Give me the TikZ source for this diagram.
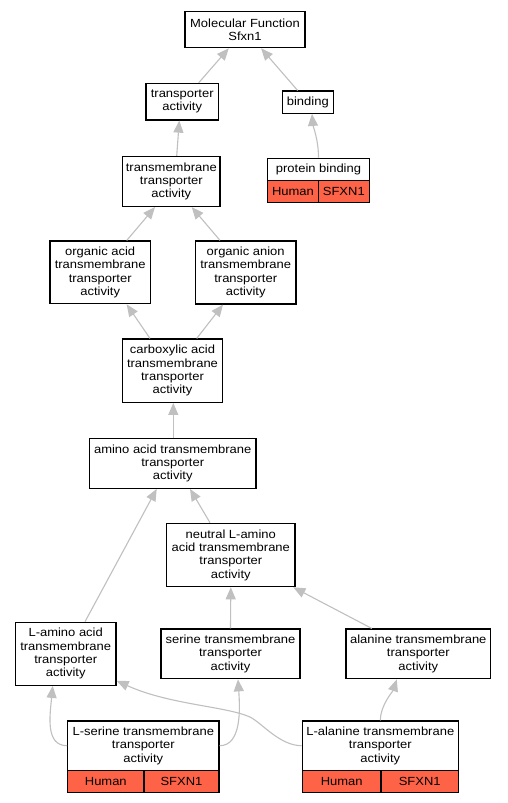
\documentclass[tikz,border=0pt]{standalone}
\usepackage{fontspec}
\setmainfont{Liberation Sans}[FakeStretch=1.1]
\usetikzlibrary{arrows.meta}
\definecolor{edgegray}{HTML}{C0C0C0}
\definecolor{tomatored}{HTML}{FF6347}
\begin{document}
\begin{tikzpicture}[x=1pt,y=-1pt,
  box/.style={draw=black, line width=1.2pt, inner sep=0pt, align=center, font=\fontsize{11.8}{13.3}\selectfont},
  cell/.style={box, fill=tomatored},
  edge/.style={draw=edgegray, line width=1.1pt, -{Triangle[length=12pt,width=10pt]}}]
\fill[white] (0,0) rectangle (507,803);
\useasboundingbox (0,0) rectangle (507,803);
% nodes
\node[box, minimum width=120pt, minimum height=36pt] (mf) at (245,29.7) {Molecular Function\\Sfxn1};
\node[box, minimum width=72.3pt, minimum height=36.7pt] (tact) at (182.2,101.7) {transporter\\activity};
\node[box, minimum width=51pt, minimum height=22.3pt] (bind) at (307.8,102.2) {binding};
\node[box, minimum width=101.6pt, minimum height=22.4pt] (pb) at (318.5,169.5) {protein binding};
\node[cell, minimum width=50.6pt, minimum height=22pt] (pbh) at (293,191.7) {Human};
\node[cell, minimum width=51pt, minimum height=22pt] (pbs) at (343.8,191.7) {SFXN1};
\node[box, minimum width=97.3pt, minimum height=50pt] (tm) at (171.3,181.5) {transmembrane\\transporter\\activity};
\node[box, minimum width=100.3pt, minimum height=62.7pt] (oa) at (100.2,272.4) {organic acid\\transmembrane\\transporter\\activity};
\node[box, minimum width=100.7pt, minimum height=63pt] (oan) at (245.7,272.5) {organic anion\\transmembrane\\transporter\\activity};
\node[box, minimum width=100.4pt, minimum height=63.3pt] (cb) at (172.5,370.7) {carboxylic acid\\transmembrane\\transporter\\activity};
\node[box, minimum width=166.7pt, minimum height=50pt] (aa) at (172.7,463.3) {amino acid transmembrane\\transporter\\activity};
\node[box, minimum width=128.3pt, minimum height=63.4pt] (neu) at (230.8,555) {neutral L-amino\\acid transmembrane\\transporter\\activity};
\node[box, minimum width=100.7pt, minimum height=63pt] (la) at (65.7,653.8) {L-amino acid\\transmembrane\\transporter\\activity};
\node[box, minimum width=139pt, minimum height=49.7pt] (ser) at (230.5,653.9) {serine transmembrane\\transporter\\activity};
\node[box, minimum width=144.7pt, minimum height=49.7pt] (ala) at (418.3,653.9) {alanine transmembrane\\transporter\\activity};
\node[box, minimum width=151.3pt, minimum height=49.3pt] (lser) at (143.3,745.7) {L-serine transmembrane\\transporter\\activity};
\node[cell, minimum width=76.3pt, minimum height=22pt] (lserh) at (105.8,781.3) {Human};
\node[cell, minimum width=75pt, minimum height=22pt] (lsers) at (181.5,781.3) {SFXN1};
\node[box, minimum width=156pt, minimum height=49.3pt] (lala) at (380.3,745.7) {L-alanine transmembrane\\transporter\\activity};
\node[cell, minimum width=78.7pt, minimum height=22pt] (lalah) at (341.7,781.3) {Human};
\node[cell, minimum width=77.3pt, minimum height=22pt] (lalas) at (419.7,781.3) {SFXN1};
\coordinate (lalamid) at (250,717);
% edges
\draw[edge] (tact) -- (mf);
\draw[edge] (bind) -- (mf);
\draw[edge] (pb.north) .. controls +(0,-18) and +(1,12) .. ([xshift=4.2pt]bind.south);
\draw[edge] ([xshift=5.4pt]tm.north) -- ([xshift=-2.9pt]tact.south);
\draw[edge] ([xshift=26.5pt]oa.north) -- ([xshift=-16.3pt]tm.south);
\draw[edge] ([xshift=-25.7pt]oan.north) -- ([xshift=20.4pt]tm.south);
\draw[edge] ([xshift=-22.5pt]cb.north) -- ([xshift=26.5pt]oa.south);
\draw[edge] ([xshift=24.2pt]cb.north) -- ([xshift=-22.7pt]oan.south);
\draw[edge] ([xshift=0.6pt]aa.north) -- ([xshift=0.8pt]cb.south);
\draw[edge] ([xshift=19.3pt]la.north) -- ([xshift=-16pt]aa.south);
\draw[edge] ([xshift=-20.8pt]neu.north) -- ([xshift=17.3pt]aa.south);
\draw[edge] (ser.north) -- (neu.south);
\draw[edge] ([xshift=-46.5pt]ala.north) -- ([xshift=62.5pt]neu.south);
\draw[edge] (lser.west) .. controls +(-22,0) and +(-2.7,29) .. ([xshift=-13pt]la.south);
\draw[edge] (lser.east) .. controls +(22,0) and +(2,30) .. ([xshift=7.5pt]ser.south);
\draw[edge] (lala.west) .. controls +(-22,0) and +(12,6) .. (lalamid) .. controls +(-25,-11) and +(53,24) .. ([yshift=-27pt]la.east);
\draw[edge] (lala.north) .. controls +(0,-15) and +(-4,12) .. ([xshift=-21.5pt]ala.south);
\end{tikzpicture}
\end{document}
